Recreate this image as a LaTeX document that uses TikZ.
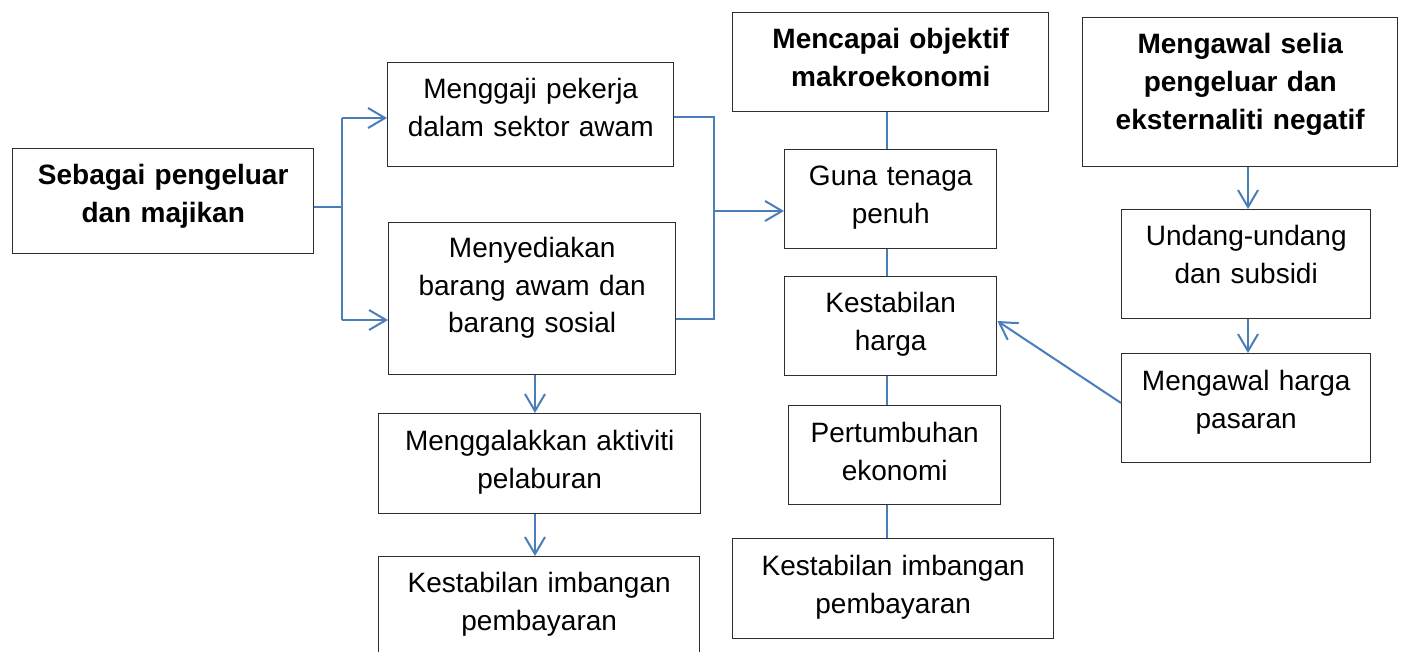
\documentclass[tikz,border=0pt]{standalone}
\usepackage{fontspec}
\setmainfont{Liberation Sans}
\usetikzlibrary{arrows.meta}
\definecolor{lnblue}{RGB}{74,126,187}
\definecolor{bxline}{RGB}{45,45,45}
\tikzset{
  boxst/.style={draw=bxline, line width=1.4pt, fill=white, inner xsep=0pt, inner ysep=0pt,
    align=center, anchor=north west, font=\fontsize{28}{37.5}\selectfont},
  boldbox/.style={boxst, font=\fontsize{28}{38}\selectfont\bfseries},
  conn/.style={draw=lnblue, line width=2pt},
  arr/.style={conn, -{Straight Barb[length=17pt, width=20pt, line width=2pt]}},
}
% name, style, x1, y1, x2, y2, first-baseline offset, text
\newcommand{\mybox}[8]{%
  \pgfmathsetmacro\mybw{#5-#3}%
  \pgfmathsetmacro\mybd{#6-#4-#7}%
  \node[#2, text width=\mybw pt, text height=#7pt, text depth=\mybd pt] (#1) at (#3pt,-#4pt) {#8};%
}
\begin{document}
\begin{tikzpicture}
\fill[white] (0,0) rectangle (1402pt,-651pt);
\useasboundingbox (0,0) rectangle (1402pt,-651pt);

\mybox{A}{boldbox}{12}{148}{313}{253}{36}{Sebagai pengeluar\\dan majikan}
\mybox{B}{boxst}{387}{62}{673}{166}{36}{Menggaji pekerja\\dalam sektor awam}
\mybox{C}{boxst}{388}{222}{675}{374}{35}{Menyediakan\\barang awam dan\\barang sosial}
\mybox{D}{boxst}{378}{413}{700}{513}{37}{Menggalakkan aktiviti\\pelaburan}
\mybox{E}{boxst}{378}{556}{699}{668}{36}{Kestabilan imbangan\\pembayaran}
\mybox{F}{boldbox}{732}{12}{1048}{111}{36}{Mencapai objektif\\makroekonomi}
\mybox{G}{boxst}{784}{149}{996}{248}{36}{Guna tenaga\\penuh}
\mybox{H}{boxst}{784}{276}{996}{375}{36}{Kestabilan\\harga}
\mybox{I}{boxst}{788}{405}{1000}{504}{37}{Pertumbuhan\\ekonomi}
\mybox{J}{boxst}{732}{538}{1053}{638}{37}{Kestabilan imbangan\\pembayaran}
\mybox{K}{boldbox}{1082}{17}{1397}{166}{36}{Mengawal selia\\pengeluar dan\\eksternaliti negatif}
\mybox{L}{boxst}{1121}{209}{1370}{318}{36}{Undang-undang\\dan subsidi}
\mybox{M}{boxst}{1121}{353}{1370}{462}{37}{Mengawal harga\\pasaran}

% left fork
\coordinate (jL) at (342pt,-207pt);
\coordinate (jB) at (342pt,-118pt);
\coordinate (jC) at (342pt,-320pt);
\draw[conn] (A.east |- jL) -- (jL);
\draw[conn] (jB) -- (jC);
\draw[arr] (jB) -- (B.west |- jB);
\draw[arr] (jC) -- (C.west |- jC);

% right join
\coordinate (kB) at (714pt,-117pt);
\coordinate (kC) at (714pt,-319pt);
\coordinate (kG) at (715pt,-211pt);
\draw[conn] (B.east |- kB) -- (kB) -- (kC) -- (C.east |- kC);
\draw[arr] (kG) -- (G.west |- kG);

% left column downward
\coordinate (dX) at (535pt,0);
\draw[arr] (C.south -| dX) -- (D.north -| dX);
\draw[arr] (D.south -| dX) -- (E.north -| dX);

% middle column links
\coordinate (mX) at (887pt,0);
\draw[conn, line width=1.5pt] (F.south -| mX) -- (G.north -| mX);
\draw[conn, line width=1.5pt] (G.south -| mX) -- (H.north -| mX);
\draw[conn, line width=1.5pt] (H.south -| mX) -- (I.north -| mX);
\draw[conn, line width=1.5pt] (I.south -| mX) -- (J.north -| mX);

% right column
\coordinate (rX) at (1248pt,0);
\draw[arr] (K.south -| rX) -- (L.north -| rX);
\draw[arr] (L.south -| rX) -- (M.north -| rX);

% diagonal
\coordinate (dS) at (0,-403pt);
\coordinate (dT) at (0,-321pt);
\draw[arr] (M.west |- dS) -- (H.east |- dT);
\end{tikzpicture}
\end{document}
